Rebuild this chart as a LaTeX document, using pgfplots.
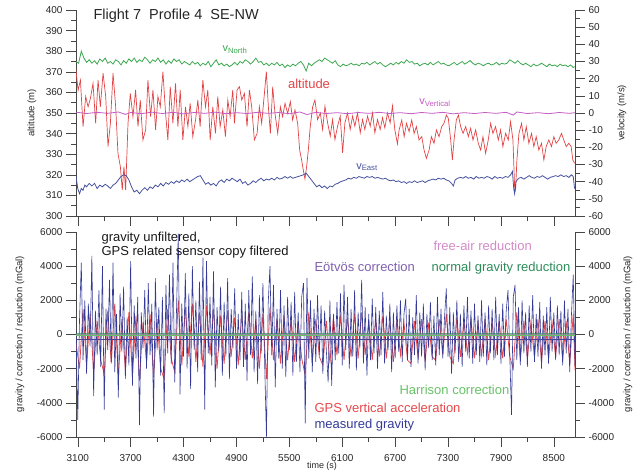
\documentclass[border=0pt]{standalone}
\usepackage{pgfplots}
\pgfplotsset{compat=1.18}
\usepackage{pgfplotstable}
\usepackage{fontspec}
\setmainfont{Liberation Sans}
\definecolor{cAlt}{RGB}{226,68,70}
\definecolor{cNorth}{RGB}{60,168,80}
\definecolor{cEast}{RGB}{70,82,160}
\definecolor{cVert}{RGB}{196,92,196}
\definecolor{cGrav}{RGB}{52,58,150}
\definecolor{cGPS}{RGB}{232,72,74}
\definecolor{cNormal}{RGB}{44,140,90}
\definecolor{cEot}{RGB}{76,64,146}
\definecolor{cEotTxt}{RGB}{128,96,176}
\definecolor{cFree}{RGB}{211,138,200}
\definecolor{cHarr}{RGB}{102,194,102}
\definecolor{cAx}{RGB}{70,70,70}

\pgfplotstableread{
t a
3077 371.8
3104 361
3130 366
3160 343.4
3190 358
3217 353
3243 357
3273 364.4
3303 345
3330 366
3356 353
3387 369.3
3417 358
3443 333.7
3470 345
3500 369.3
3530 353
3556 330.4
3583 324
3605 312.6
3624 324
3643 312.6
3670 345
3696 359.5
3726 348.2
3756 361.2
3783 343.4
3809 356.3
3839 336.9
3870 341.8
3896 366
3926 348.2
3953 361.2
3983 341.8
4009 358
4036 353
4066 370.1
4096 349.8
4122 336.9
4149 362.8
4179 345
4209 364.4
4236 343.4
4262 361.2
4292 336.9
4322 353
4349 343.4
4375 354.7
4405 338.5
4436 346.6
4462 356.3
4488 343.4
4519 366
4549 353
4575 361.2
4602 336.9
4632 353
4662 340.1
4688 358
4715 343.4
4745 351.5
4775 338.5
4802 356.3
4828 348.2
4858 361.2
4877 345
4907 361.2
4934 362.8
4960 356.3
4990 359.5
5020 343.4
5047 361.2
5073 353
5103 336.9
5134 340.1
5160 353
5186 345
5217 359.5
5239 370.1
5262 353
5285 340.1
5311 362.8
5337 349.8
5368 340.1
5398 353
5424 348.2
5451 354.7
5481 349.8
5511 355.5
5537 346.6
5564 351.5
5594 345
5617 332
5639 327.2
5658 322.3
5677 318
5696 324
5715 332
5737 343.4
5764 353
5790 356.3
5820 346.8
5851 350
5877 342
5904 353.3
5934 345.2
5964 338.8
5990 346.8
6017 337.1
6047 343.6
6077 348.5
6104 330.7
6130 345.2
6160 350
6190 342
6217 348.5
6243 343.6
6273 350
6304 340.4
6330 346.8
6356 342
6387 348.5
6417 343.6
6443 350
6470 340.4
6500 346.8
6530 342
6557 347.7
6583 342.8
6613 350
6643 345.2
6670 353.5
6696 342
6726 335
6745 341.8
6775 346.6
6802 338.5
6828 345
6858 341
6888 346.6
6915 340.1
6941 343.4
6971 336.9
7002 338.5
7028 332
7054 328
7085 332
7111 338.5
7141 335.3
7168 341.8
7198 338.5
7228 343.4
7254 345
7281 349
7303 347.4
7330 336.9
7349 327.2
7368 336.9
7394 346.6
7417 349
7443 343.4
7470 340.1
7500 343.4
7530 338.5
7556 342.6
7583 336.9
7613 341.8
7643 335.3
7670 332
7696 338.5
7726 330.4
7756 336.9
7783 345
7809 340.1
7839 343.4
7870 336.9
7896 341.8
7922 333.7
7953 340.1
7983 336.9
8009 345.8
8036 336.9
8055 314.2
8066 312.6
8081 327.2
8104 340.1
8134 345
8160 336.9
8187 343.4
8217 335.3
8247 340.1
8273 333.7
8300 338.5
8330 332
8360 335.3
8387 327.2
8413 333.7
8443 336.9
8473 333.7
8500 338.5
8526 335.3
8556 336.9
8587 340.1
8613 336.9
8640 333.7
8670 335.3
8696 333.7
8715 327.2
8736 325.6
}\altdata

\pgfplotstableread{
t v
3080 30
3110 29
3140 36
3170 32
3200 29.5
3230 31
3260 29
3290 30.5
3320 28.5
3350 31.5
3380 30
3410 32
3440 29
3470 30
3500 28.5
3530 31
3560 30
3590 28
3620 30.5
3650 29
3680 31.5
3710 30
3740 32
3770 29.5
3800 31
3830 30
3860 32.5
3890 31
3920 29
3950 31
3980 30
4010 32
4040 29.5
4070 31
4100 28.5
4130 30.5
4160 29
4190 31.5
4220 30
4250 31
4280 28.5
4310 30
4340 29
4370 28
4400 30
4430 28.5
4460 29.5
4490 27.5
4520 29
4550 28
4580 30
4610 27
4640 29
4670 31
4700 28
4730 29
4760 27.5
4790 28.5
4820 27
4850 28
4880 29.5
4910 28
4940 30
4970 29
5000 31
5030 30
5060 28.5
5090 30
5120 32
5150 29.5
5180 30
5210 28
5240 29
5270 27.5
5300 29
5330 28
5360 29.5
5390 27.5
5420 28.5
5450 26.5
5480 28
5510 27
5540 28.5
5570 27.5
5600 29
5630 30
5660 28
5690 24.5
5720 29
5750 27.5
5780 29
5810 30
5840 31
5870 30
5900 32
5930 31
5960 30
5990 29
6020 30.5
6050 28
6080 27
6110 28.5
6140 27.5
6170 28
6200 29
6230 28
6260 28.5
6290 27.5
6320 29
6350 28.5
6380 29.5
6410 28
6440 29
6470 30
6500 28.5
6530 29.5
6560 28
6590 27
6620 28
6650 29
6680 28
6710 29.5
6740 28.5
6770 30
6800 29
6830 31
6860 29.5
6890 30
6920 28.5
6950 29
6980 27.5
7010 28.5
7040 29
7070 28
7100 29.5
7130 28
7160 29
7190 30
7220 28.5
7250 29
7280 28
7310 27.5
7340 28.5
7370 29.5
7400 28
7430 29
7460 30
7490 28.5
7520 29.5
7550 30.5
7580 29
7610 28
7640 29
7670 28.5
7700 27.5
7730 28.5
7760 29
7790 28
7820 28.5
7850 29.5
7880 28
7910 29
7940 28.5
7970 29
8000 31
8030 30
8060 29
8090 30.5
8120 29
8150 28
8180 29
8210 28
8240 27
8270 28.5
8300 27.5
8330 28
8360 29
8390 28
8420 27
8450 28.5
8480 27.5
8510 28
8540 27
8570 28.5
8600 27.5
8630 28
8660 27
8690 28
8720 26.5
8740 27
}\northdata

\pgfplotstableread{
t v
3080 -37
3100 -44
3120 -47
3140 -44
3160 -45
3180 -42
3200 -43
3230 -41
3260 -42.5
3290 -41
3320 -44
3350 -42
3380 -43
3410 -41.5
3440 -42.5
3470 -44
3500 -42
3530 -41
3560 -39
3590 -37
3620 -36
3650 -36.5
3680 -39
3710 -43
3740 -46
3770 -45
3800 -47
3830 -45
3860 -43.5
3890 -45
3920 -43
3950 -44
3980 -42
4010 -43
4040 -41
4070 -42.5
4100 -40.5
4130 -41.5
4160 -40
4190 -41
4220 -39.5
4250 -40.5
4280 -39
4310 -40
4340 -38.5
4370 -40
4400 -39
4430 -38
4460 -37
4490 -36.5
4520 -39
4550 -41.5
4580 -40.5
4610 -42
4640 -41
4670 -42.5
4700 -40
4730 -39
4760 -40.5
4790 -38.5
4820 -39.5
4850 -38
4880 -39
4910 -40
4940 -38.5
4970 -41
5000 -40
5030 -42
5060 -41
5090 -39.5
5120 -40.5
5150 -39
5180 -38
5210 -39.5
5240 -38.5
5270 -39
5300 -38
5330 -39
5360 -37.5
5390 -38.5
5420 -38
5450 -37
5480 -38
5510 -37
5540 -38
5570 -37.5
5600 -37
5630 -36.5
5660 -36
5690 -35
5720 -37
5750 -39
5780 -41
5810 -43
5840 -42
5870 -43.5
5900 -42.5
5930 -44
5960 -42.5
5990 -43
6020 -41.5
6050 -41
6080 -40
6110 -39.5
6140 -39
6170 -38
6200 -38.5
6230 -37.5
6260 -38
6290 -37
6320 -37.5
6350 -38
6380 -37
6410 -37.5
6440 -37
6470 -38
6500 -37.5
6530 -38
6560 -38.5
6590 -38
6620 -39
6650 -39.5
6680 -39
6710 -40
6740 -39.5
6770 -40.5
6800 -40
6830 -41
6860 -40
6890 -40.5
6920 -39.5
6950 -40.5
6980 -40
7010 -39.5
7040 -40.5
7070 -39.5
7100 -39
7130 -38.5
7160 -39
7190 -38
7220 -38.5
7250 -38
7280 -39
7310 -39.5
7340 -41
7360 -42.5
7380 -39
7410 -38
7440 -37.5
7470 -38
7500 -37
7530 -38
7560 -37.5
7590 -38.5
7620 -37
7650 -38
7680 -37.5
7710 -38
7740 -37
7770 -37.5
7800 -38.5
7830 -37
7860 -38
7890 -37.5
7920 -38
7950 -37
7980 -37.5
8010 -36
8030 -34
8045 -44
8055 -47
8070 -40
8100 -38
8130 -37.5
8160 -38.5
8190 -37.5
8220 -36.5
8250 -37.5
8280 -38
8310 -37
8340 -37.5
8370 -36.5
8400 -37.5
8430 -38.5
8460 -37.5
8490 -37
8520 -36.5
8550 -37
8580 -36
8610 -37
8640 -36.5
8670 -37.5
8700 -36
8720 -37
8735 -44
}\eastdata

\pgfplotstableread{
t v
3080 0.5
3200 -0.3
3320 0.4
3440 -0.2
3560 0.6
3640 -0.8
3700 0.3
3820 -0.4
3940 0.5
4060 -0.3
4180 0.4
4300 -0.5
4420 0.3
4540 -0.2
4660 0.5
4780 -0.4
4900 0.2
5020 -0.3
5140 0.4
5260 -0.2
5380 0.3
5500 -0.4
5620 0.6
5700 -0.9
5800 0.4
5920 -0.3
6040 0.2
6160 -0.4
6280 0.3
6400 -0.2
6520 0.4
6640 -0.3
6760 0.2
6880 -0.4
7000 0.3
7120 -0.2
7240 0.4
7360 -0.5
7480 0.2
7600 -0.3
7720 0.3
7840 -0.2
7960 0.4
8040 -1.2
8080 0.6
8200 -0.3
8320 0.2
8440 -0.4
8560 0.3
8680 -0.2
8740 0.2
}\vertdata

\pgfplotstableread{
t g
3080 300
3100 -5000
3120 900
3140 4200
3160 -1500
3180 2000
3200 -2300
3220 1800
3240 -700
3260 4600
3280 -3600
3300 1400
3320 -1200
3340 2600
3360 -1900
3380 4000
3400 -4400
3420 1500
3440 -900
3460 3200
3480 -1600
3500 4200
3520 -2200
3540 1200
3560 -3700
3580 2400
3600 -1000
3620 2800
3640 -2600
3660 1000
3680 -1800
3700 4300
3720 -3000
3740 1700
3760 -1400
3780 2200
3800 -5300
3820 1300
3840 -800
3860 2600
3880 -2000
3900 3000
3920 -1200
3940 1800
3960 -4800
3980 3300
4000 -900
4020 1600
4040 -2400
4060 2200
4080 -4600
4100 2900
4120 -1100
4140 3500
4160 -1700
4180 4200
4200 -2800
4220 1400
4240 5900
4260 -3500
4280 1800
4300 -1300
4320 3600
4340 -2000
4360 2400
4380 -3200
4400 4000
4420 -900
4440 2000
4460 -2200
4480 3100
4500 -1500
4520 4500
4540 -4400
4560 4300
4580 -1100
4600 2200
4620 -1800
4640 3700
4660 -3100
4680 1600
4700 -1000
4720 2800
4740 -2400
4760 1900
4780 -1300
4800 3300
4820 -2600
4840 1500
4860 -800
4880 2700
4900 -2000
4920 1200
4940 -1500
4960 2500
4980 -1900
5000 1800
5020 -2700
5040 2600
5060 -1200
5080 3400
5100 -2200
5120 1400
5140 -2900
5160 2300
5180 -1100
5200 3000
5220 -1700
5240 -6000
5260 1800
5280 4000
5300 -1200
5320 2900
5340 -3100
5360 1500
5380 -1400
5400 2600
5420 -2000
5440 1700
5460 -2500
5480 2200
5500 -900
5520 1900
5540 -2400
5560 2500
5580 -1600
5600 1300
5620 -2200
5640 2200
5660 3000
5680 -5200
5700 3300
5720 -1400
5740 2000
5760 -2200
5780 1500
5800 -1600
5820 2300
5840 -1200
5860 1700
5880 -2300
5900 1400
5920 -1000
5940 -2800
5960 2000
5980 -3000
6000 1200
6020 -1500
6040 1900
6060 -1100
6080 2400
6100 -1800
6120 2900
6140 -900
6160 2200
6180 -2000
6200 1500
6220 -1300
6240 2600
6260 -2100
6280 1300
6300 -800
6320 3200
6340 -1700
6360 1600
6380 -2400
6400 1200
6420 -1500
6440 2100
6460 -1100
6480 1600
6500 -2000
6520 1400
6540 -1200
6560 2500
6580 -1700
6600 1100
6620 -900
6640 1800
6660 -2200
6680 1300
6700 -1400
6720 1700
6740 -1000
6760 2000
6780 -1600
6800 1200
6820 2100
6840 -1500
6860 1500
6880 -1900
6900 1000
6920 -1200
6940 2300
6960 -1700
6980 1300
7000 -1300
7020 1800
7040 -2100
7060 1200
7080 -800
7100 1900
7120 -1500
7140 1100
7160 -1800
7180 2200
7200 -1200
7220 1500
7240 -1400
7260 1000
7280 2700
7300 -1300
7320 1600
7340 -2300
7360 1300
7380 -1100
7400 2000
7420 -1600
7440 1200
7460 -1900
7480 1700
7500 -1000
7520 2200
7540 -1400
7560 1400
7580 -1700
7600 1800
7620 -1200
7640 1100
7660 -1600
7680 2000
7700 -1300
7720 1300
7740 -1800
7760 1700
7780 -1100
7800 1500
7820 -1500
7840 2200
7860 -1200
7880 1200
7900 -1700
7920 1800
7940 -1300
7960 1400
7980 2600
8000 -1200
8020 -4700
8040 2200
8060 2900
8080 -1500
8100 1600
8120 -1800
8140 2000
8160 -1100
8180 1300
8200 -1900
8220 1700
8240 -1000
8260 2300
8280 -1600
8300 1200
8320 -1300
8340 1900
8360 -2000
8380 1100
8400 -1200
8420 1600
8440 -1700
8460 2200
8480 -1000
8500 1300
8520 -1500
8540 1700
8560 -1200
8580 1400
8600 -1800
8620 2000
8640 -1100
8660 1500
8680 -2200
8700 1200
8720 3500
8740 -1800
}\gravdata

\pgfplotstableread{
t g
3080 -500
3120 -2000
3160 1500
3200 -1800
3240 1200
3280 -2200
3320 800
3360 -1500
3400 -2300
3440 1400
3480 -1700
3520 1800
3560 -2500
3600 900
3640 -2100
3680 1300
3720 -2400
3760 1100
3800 -2700
3840 700
3880 -1600
3920 1200
3960 -2500
4000 900
4040 -2000
4080 -2600
4120 1500
4160 -1400
4200 -2200
4240 2000
4280 -1800
4320 1600
4360 -1300
4400 1800
4440 -1600
4480 1300
4520 -1900
4560 1700
4600 -1200
4640 1500
4680 -2000
4720 1100
4760 -1700
4800 1400
4840 -1300
4880 1000
4920 -1800
4960 1200
5000 -1500
5040 1300
5080 -1400
5120 900
5160 -2000
5200 1200
5240 -2600
5280 1600
5320 -1500
5360 900
5400 -1700
5440 1100
5480 -1500
5520 900
5560 -1600
5600 800
5640 -1400
5680 -2400
5720 1300
5760 -1600
5800 900
5840 -1300
5880 -1800
5920 800
5960 -1700
6000 1000
6040 -1200
6080 1100
6120 -1500
6160 1000
6200 -1300
6240 1200
6280 -1400
6320 1300
6360 -1200
6400 800
6440 -1500
6480 900
6520 -1300
6560 1100
6600 -1400
6640 800
6680 -1600
6720 900
6760 -1200
6800 700
6840 -1500
6880 -1700
6920 800
6960 -1400
7000 900
7040 -1600
7080 700
7120 -1300
7160 -1500
7200 900
7240 -1200
7280 1200
7320 -1300
7360 -1700
7400 1000
7440 -1300
7480 800
7520 -1100
7560 900
7600 -1400
7640 700
7680 -1200
7720 900
7760 -1500
7800 700
7840 -1200
7880 800
7920 -1400
7960 900
8000 -1300
8040 -2000
8080 1300
8120 -1500
8160 800
8200 -1400
8240 700
8280 -1300
8320 900
8360 -1600
8400 800
8440 -1400
8480 700
8520 -1300
8560 900
8600 -1500
8640 800
8680 -1700
8720 1200
8740 -2100
}\gpsdata

\pgfplotsset{
  panel/.style={
    scale only axis, width=499pt, xmin=3080, xmax=8740,
    tick align=outside, major tick length=10pt, minor tick length=5pt,
    tick style={cAx, line width=0.5pt},
    axis line style={cAx, line width=0.6pt},
    tick label style={font=\fontsize{10}{12}\selectfont, text=black!85},
    /pgf/number format/assume math mode=true,
    /pgf/number format/1000 sep={},
    scaled ticks=false,
    xtick={3100,3700,...,8500},
    minor xtick={3400,4000,...,8200},
  }
}

\begin{document}
\begin{tikzpicture}
\path[use as bounding box] (0pt,0pt) rectangle (642pt,-472pt);

% ---------- top panel: altitude (left) ----------
\begin{axis}[panel, at={(76pt,-216pt)}, anchor=south west, height=206pt,
  ymin=300, ymax=400, ytick={300,310,...,400}, minor y tick num=1,
  xticklabels={}, axis x line*=bottom, axis y line*=left]
\addplot[cAlt, line width=0.7pt] table[x=t, y=a] {\altdata};
\end{axis}

% ---------- top panel: velocity (right) ----------
\begin{axis}[panel, at={(76pt,-216pt)}, anchor=south west, height=206pt,
  ymin=-60, ymax=60, ytick={-60,-50,...,60}, minor y tick num=1,
  axis x line=none, axis y line*=right]
\addplot[cNorth, line width=0.8pt] table[x=t, y=v] {\northdata};
\addplot[cEast, line width=0.8pt] table[x=t, y=v] {\eastdata};
\addplot[cVert, line width=0.8pt] table[x=t, y=v] {\vertdata};
\end{axis}

% ---------- bottom panel: gravity (left) ----------
\begin{axis}[panel, at={(76pt,-437pt)}, anchor=south west, height=205pt,
  ymin=-6000, ymax=6000, ytick={-6000,-4000,...,6000}, minor y tick num=1,
  xticklabel style={yshift=-4pt},
  axis x line*=bottom, axis y line*=left]
\addplot[cGPS, line width=0.8pt] table[x=t, y=g] {\gpsdata};
\addplot[cGrav, line width=0.6pt] table[x=t, y=g] {\gravdata};
\addplot[cFree, line width=0.6pt] coordinates {(3080,10) (8740,-10)};
\addplot[cHarr, line width=0.6pt] coordinates {(3080,-20) (8740,-20)};
\addplot[cEot, line width=0.8pt] coordinates {(3080,-280) (8740,-280)};
\addplot[cNormal, line width=1pt] coordinates {(3080,40) (8740,30)};
\end{axis}

% ---------- bottom panel: right axis ----------
\begin{axis}[panel, at={(76pt,-437pt)}, anchor=south west, height=205pt,
  ymin=-6000, ymax=6000, ytick={-6000,-4000,...,6000}, minor y tick num=1,
  axis x line=none, axis y line*=right]
\end{axis}

% ---------- texts ----------
\node[anchor=west, font=\fontsize{14.5}{16}\selectfont, text=black!85] at (90pt,-16pt) {Flight 7\ \ Profile 4\ \ SE-NW};
\node[text=cNorth, font=\fontsize{11}{12}\selectfont] at (235pt,-50pt) {v\textsubscript{North}};
\node[text=cAlt, font=\fontsize{13}{14}\selectfont] at (309pt,-84pt) {altitude};
\node[text=cVert, font=\fontsize{11}{12}\selectfont] at (435pt,-103pt) {v\textsubscript{Vertical}};
\node[text=cEast, font=\fontsize{11}{12}\selectfont] at (367pt,-167pt) {v\textsubscript{East}};

\node[anchor=west, font=\fontsize{13}{14}\selectfont, text=black!90] at (98pt,-238pt) {gravity unfiltered,};
\node[anchor=west, font=\fontsize{13}{14}\selectfont, text=black!90] at (98pt,-252pt) {GPS related sensor copy filtered};
\node[anchor=west, font=\fontsize{13}{14}\selectfont, text=cFree] at (430pt,-246pt) {free-air reduction};
\node[anchor=west, font=\fontsize{13}{14}\selectfont, text=cEotTxt] at (311pt,-267pt) {Eötvös correction};
\node[anchor=west, font=\fontsize{13}{14}\selectfont, text=cNormal] at (428pt,-268pt) {normal gravity reduction};
\node[anchor=west, font=\fontsize{13}{14}\selectfont, text=cHarr] at (396pt,-390pt) {Harrison correction};
\node[anchor=west, font=\fontsize{13}{14}\selectfont, text=cGPS] at (311pt,-408pt) {GPS vertical acceleration};
\node[anchor=west, font=\fontsize{13}{14}\selectfont, text=cGrav] at (311pt,-425pt) {measured gravity};

\node[rotate=90, font=\fontsize{9.5}{11}\selectfont, text=black!85] at (32pt,-113pt) {altitude (m)};
\node[rotate=90, font=\fontsize{9.5}{11}\selectfont, text=black!85] at (622pt,-113pt) {velocity (m/s)};
\node[rotate=90, font=\fontsize{9.5}{11}\selectfont, text=black!85] at (20pt,-334pt) {gravity / correction / reduction (mGal)};
\node[rotate=90, font=\fontsize{9.5}{11}\selectfont, text=black!85] at (628pt,-334pt) {gravity / correction / reduction (mGal)};
\node[anchor=south, inner sep=1pt, font=\fontsize{9}{10}\selectfont, text=black!85] at (322pt,-471.5pt) {time (s)};
\end{tikzpicture}
\end{document}
